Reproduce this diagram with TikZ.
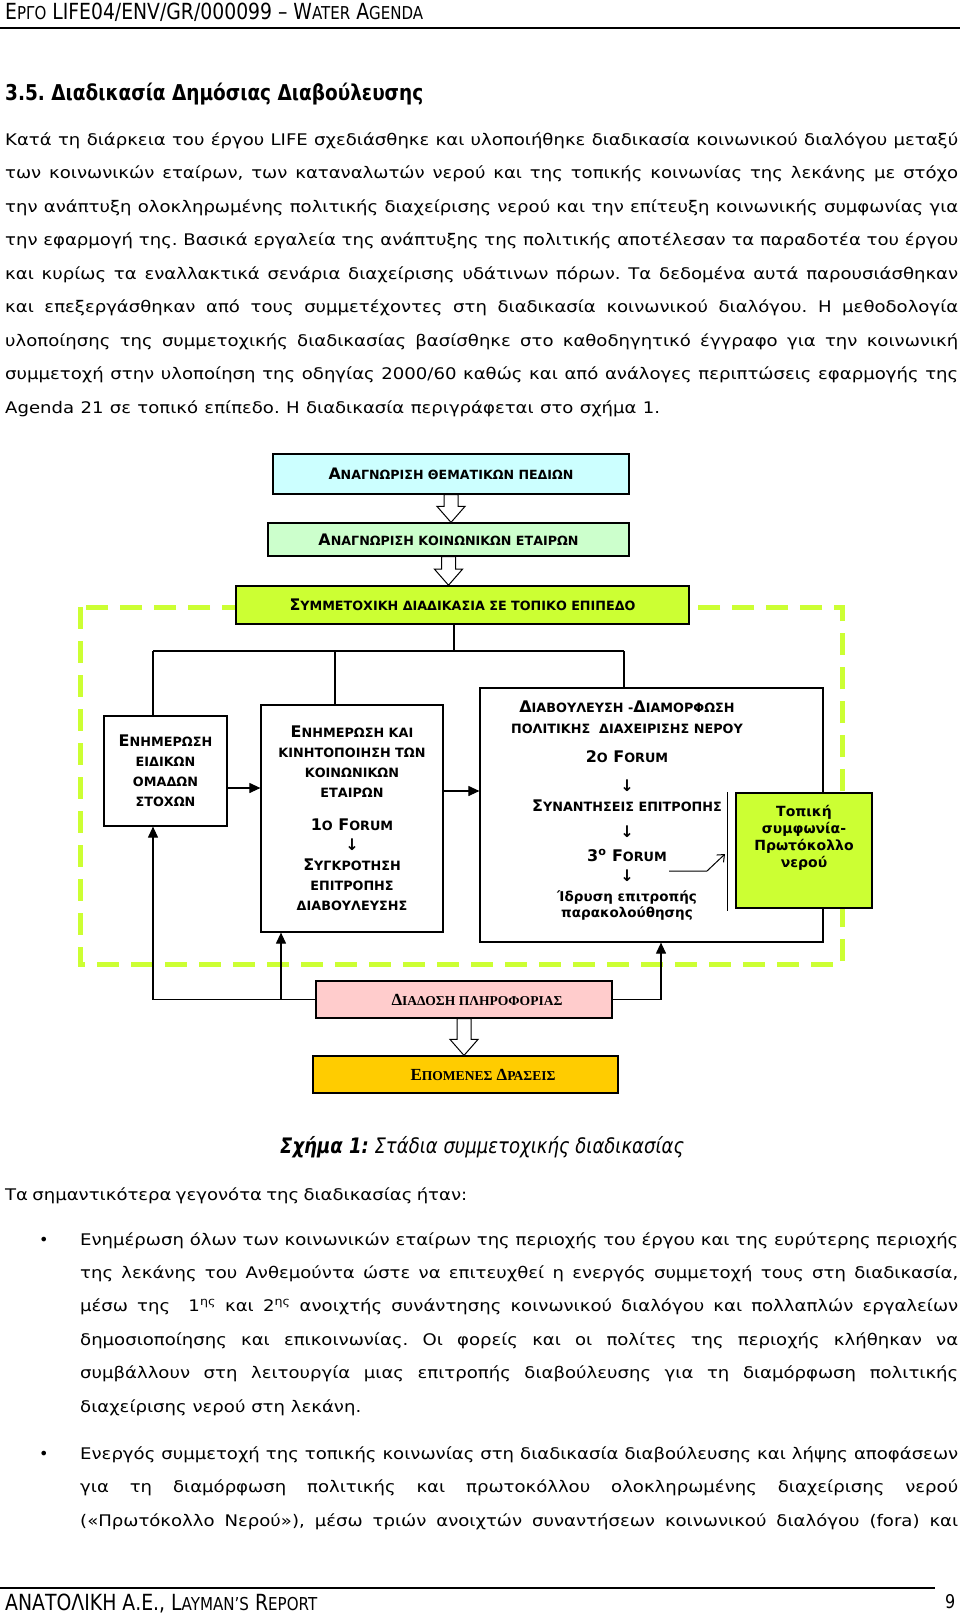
\documentclass[tikz,border=0pt]{standalone}
\usepackage{fontspec}
\setmainfont{DejaVu Sans}
\newfontfamily\timesfont{Liberation Serif}
\usepackage{graphicx}
\usetikzlibrary{arrows.meta,calc}

\definecolor{limegr}{HTML}{CCFF33}
\definecolor{paleblue}{HTML}{CCFFFF}
\definecolor{palegreen}{HTML}{CCFFCC}
\definecolor{palepink}{HTML}{FFCCCC}
\definecolor{gold}{HTML}{FFCC00}

\frenchspacing
\newcommand{\sm}[1]{\scalebox{0.8}{#1}}
\newcommand{\fitw}[2]{\resizebox{#1pt}{!}{#2}}
\newcommand{\tall}[1]{\scalebox{1}[1.18]{#1}}
\newcommand{\jl}[2]{\scalebox{1.13}[1]{\hbox to \dimexpr #1pt*100/113\relax{#2}}}
\newcommand{\fatarrow}[2]{%
  \draw[fatarr] let \p1 = (#1.south), \p2 = (#2.north) in
    (\x1-7pt,\y1) -- (\x1-7pt,\y2+16pt) -- (\x1-14pt,\y2+16pt) -- (\x1,\y2)
    -- (\x1+14pt,\y2+16pt) -- (\x1+7pt,\y2+16pt) -- (\x1+7pt,\y1) -- cycle;}

\tikzset{
  box/.style = {draw, line width=1.2pt, inner sep=0pt},
  wire/.style = {line width=1.1pt},
  feed/.style = {wire, -{Triangle[length=11pt, width=10pt]}},
  fatarr/.style = {draw, line width=1pt, fill=white},
  txt/.style = {anchor=base west, inner sep=0pt, font=\fontsize{16}{16}\selectfont},
  caps/.style = {align=center, inner sep=0pt, font=\bfseries\fontsize{16}{20}\selectfont},
}

\begin{document}
\begin{tikzpicture}[x=1pt, y=-1pt]
	\useasboundingbox (0,0) rectangle (960,1617);
	\fill[white] (0,0) rectangle (960,1617);

	% page head
	\node[txt] (hdr) at (5,19) {\tall{\fitw{418}{\fontsize{15}{15}\selectfont Ε\sm{ΡΓΟ} LIFE04/ENV/GR/000099 -- W\sm{ATER} A\sm{GENDA}}}};
	\draw[line width=1.5pt] (0,28) -- (960,28);
	\node[txt] (sec) at (5,100) {\tall{\fitw{418}{\bfseries\fontsize{17}{17}\selectfont 3.5. Διαδικασία Δημόσιας Διαβούλευσης}}};

	\foreach \t [count=\i] in {
		{Κατά τη διάρκεια του έργου LIFE σχεδιάσθηκε και υλοποιήθηκε διαδικασία κοινωνικού διαλόγου μεταξύ},
		{των κοινωνικών εταίρων, των καταναλωτών νερού και της τοπικής κοινωνίας της λεκάνης με στόχο},
		{την ανάπτυξη ολοκληρωμένης πολιτικής διαχείρισης νερού και την επίτευξη κοινωνικής συμφωνίας για},
		{την εφαρμογή της. Βασικά εργαλεία της ανάπτυξης της πολιτικής αποτέλεσαν τα παραδοτέα του έργου},
		{και κυρίως τα εναλλακτικά σενάρια διαχείρισης υδάτινων πόρων. Τα δεδομένα αυτά παρουσιάσθηκαν},
		{και επεξεργάσθηκαν από τους συμμετέχοντες στη διαδικασία κοινωνικού διαλόγου. Η μεθοδολογία},
		{υλοποίησης της συμμετοχικής διαδικασίας βασίσθηκε στο καθοδηγητικό έγγραφο για την κοινωνική},
		{συμμετοχή στην υλοποίηση της οδηγίας 2000/60 καθώς και από ανάλογες περιπτώσεις εφαρμογής της}}
		{\node[txt] (par\i) at (5,{145+33.5*(\i-1)}) {\jl{953}{\t}};}
	\node[txt] (par9) at (5,413) {\jl{655}{Agenda 21 σε τοπικό επίπεδο. Η διαδικασία περιγράφεται στο σχήμα 1.}};

	% figure
	\draw[limegr, line width=5pt, dash pattern=on 22pt off 12pt] (80,607) rectangle (842,964);

	\node[box, fill=paleblue, minimum width=356pt, minimum height=40pt] (them) at (451,474)
		{\fitw{245}{\bfseries\fontsize{15}{15}\selectfont Α\sm{ΝΑΓΝΩΡΙΣΗ ΘΕΜΑΤΙΚΩΝ ΠΕΔΙΩΝ}}};
	\node[box, fill=palegreen, minimum width=361pt, minimum height=33pt] (part) at (448.5,539.5)
		{\fitw{260}{\bfseries\fontsize{15}{15}\selectfont Α\sm{ΝΑΓΝΩΡΙΣΗ ΚΟΙΝΩΝΙΚΩΝ ΕΤΑΙΡΩΝ}}};
	\node[box, fill=limegr, line width=1.6pt, minimum width=453pt, minimum height=38pt] (loc) at (462.5,605)
		{\fitw{346}{\bfseries\fontsize{15}{15}\selectfont Σ\sm{ΥΜΜΕΤΟΧΙΚΗ ΔΙΑΔΙΚΑΣΙΑ ΣΕ ΤΟΠΙΚΟ ΕΠΙΠΕΔΟ}}};
	\fatarrow{them}{part}
	\fatarrow{part}{loc}

	\node[box, caps, minimum width=123pt, minimum height=110pt] (tgt) at (165.5,771)
		{Ε\sm{ΝΗΜΕΡΩΣΗ}\\ \sm{ΕΙΔΙΚΩΝ}\\ \sm{ΟΜΑΔΩΝ}\\ \sm{ΣΤΟΧΩΝ}};
	\node[box, caps, minimum width=182pt, minimum height=227pt] (mob) at (352,818.5)
		{Ε\sm{ΝΗΜΕΡΩΣΗ ΚΑΙ}\\ \sm{ΚΙΝΗΤΟΠΟΙΗΣΗ ΤΩΝ}\\ \sm{ΚΟΙΝΩΝΙΚΩΝ}\\ \sm{ΕΤΑΙΡΩΝ}\\[13pt]
		1\sm{Ο} F\sm{ORUM}\\ ↓\\ Σ\sm{ΥΓΚΡΟΤΗΣΗ}\\ \sm{ΕΠΙΤΡΟΠΗΣ}\\ \sm{ΔΙΑΒΟΥΛΕΥΣΗΣ}};
	\node[box, minimum width=343pt, minimum height=254pt] (cons) at (651.5,815) {};
	\node[caps, font=\bfseries\fontsize{16}{20}\selectfont, anchor=north] (consT) at (627,701)
		{Δ\sm{ΙΑΒΟΥΛΕΥΣΗ -}Δ\sm{ΙΑΜΟΡΦΩΣΗ}\\[1pt] \sm{ΠΟΛΙΤΙΚΗΣ\ \ ΔΙΑΧΕΙΡΙΣΗΣ ΝΕΡΟΥ}\\[9pt]
		2\sm{Ο} F\sm{ORUM}\\[9pt] ↓\\ Σ\sm{ΥΝΑΝΤΗΣΕΙΣ ΕΠΙΤΡΟΠΗΣ}\\[6pt] ↓\\[4pt]
		3\textsuperscript{o} F\sm{ORUM}\\ ↓\\ {\fontsize{13.5}{16}\selectfont Ίδρυση επιτροπής}\\[-4pt]
		{\fontsize{13.5}{16}\selectfont παρακολούθησης}};
	\node[box, fill=limegr, minimum width=136pt, minimum height=115pt] (prot) at (804,850.5) {};
	\node[align=center, inner sep=0pt, font=\bfseries\fontsize{14}{17}\selectfont] (protT) at (804,838)
		{Τοπική\\συμφωνία-\\Πρωτόκολλο\\νερού};
	\draw[wire] ([xshift=-8pt]prot.north west) -- ([xshift=-8pt,yshift=-2pt]prot.south west);

	\coordinate (bus) at (454,651);
	\coordinate (busL) at (153,651);
	\coordinate (busM) at (335,651);
	\coordinate (busR) at (624,651);
	\draw[wire] (loc.south -| bus) -- (bus);
	\draw[wire] (busL) -- (busR);
	\draw[wire] (busL) -- (busL |- tgt.north);
	\draw[wire] (busM) -- (busM |- mob.north);
	\draw[wire] (busR) -- (busR |- cons.north);
	\draw[feed] ([yshift=-17pt]tgt.east) -- ([yshift=-17pt]tgt.east -| mob.west);
	\draw[feed] ([yshift=27.5pt]mob.east) -- ([yshift=27.5pt]mob.east -| cons.west);

	\coordinate (f3) at (669,871);
	\coordinate (f3k) at (707,871);
	\coordinate (f3t) at (725,854);
	\draw[wire, line width=1pt, -{Straight Barb[length=6pt, width=10pt]}] (f3) -- (f3k) -- (f3t);

	\node[box, fill=palepink, minimum width=296pt, minimum height=37pt] (dis) at (464,999.5)
		{\hspace*{26pt}\fitw{171}{\timesfont\bfseries\fontsize{15}{15}\selectfont Δ\sm{ΙΑΔΟΣΗ ΠΛΗΡΟΦΟΡΙΑΣ}}};
	\node[box, fill=gold, minimum width=305pt, minimum height=37pt] (next) at (465.5,1074.5)
		{\hspace*{35pt}\fitw{145}{\timesfont\bfseries\fontsize{15}{15}\selectfont Ε\sm{ΠΟΜΕΝΕΣ} Δ\sm{ΡΑΣΕΙΣ}}};
	\fatarrow{dis}{next}

	\coordinate (upE) at (281,0);
	\coordinate (upF) at (661,0);
	\draw[feed] (dis.west) -| (busL |- tgt.south);
	\draw[feed] (dis.west -| upE) -- (upE |- mob.south);
	\draw[feed] (dis.east) -| (upF |- cons.south);

	\node[txt] (cap) at (280,1153) {\tall{\fitw{404}{\fontsize{17}{17}\selectfont\itshape\textbf{Σχήμα 1:} Στάδια συμμετοχικής διαδικασίας}}};
	\node[txt] (intro) at (5,1200) {\jl{462}{Τα σημαντικότερα γεγονότα της διαδικασίας ήταν:}};

	% bullets
	\node[txt] (dotA) at (39,1245) {•};
	\foreach \t [count=\i] in {
		{Ενημέρωση όλων των κοινωνικών εταίρων της περιοχής του έργου και της ευρύτερης περιοχής},
		{της λεκάνης του Ανθεμούντα ώστε να επιτευχθεί η ενεργός συμμετοχή τους στη διαδικασία,},
		{μέσω της \ 1\textsuperscript{ης} και 2\textsuperscript{ης} ανοιχτής συνάντησης κοινωνικού διαλόγου και πολλαπλών εργαλείων},
		{δημοσιοποίησης και επικοινωνίας. Οι φορείς και οι πολίτες της περιοχής κλήθηκαν να},
		{συμβάλλουν στη λειτουργία μιας επιτροπής διαβούλευσης για τη διαμόρφωση πολιτικής}}
		{\node[txt] (bA\i) at (80,{1245+33.4*(\i-1)}) {\jl{878}{\t}};}
	\node[txt] (bA6) at (80,1412) {\jl{281}{διαχείρισης νερού στη λεκάνη.}};
	\node[txt] (dotB) at (39,1459) {•};
	\foreach \t [count=\i] in {
		{Ενεργός συμμετοχή της τοπικής κοινωνίας στη διαδικασία διαβούλευσης και λήψης αποφάσεων},
		{για τη διαμόρφωση πολιτικής και πρωτοκόλλου ολοκληρωμένης διαχείρισης νερού},
		{(«Πρωτόκολλο Νερού»), μέσω τριών ανοιχτών συναντήσεων κοινωνικού διαλόγου (fora) και}}
		{\node[txt] (bB\i) at (80,{1459+33.5*(\i-1)}) {\jl{878}{\t}};}

	% page foot
	\draw[line width=1.2pt] (0,1588) -- (935,1588);
	\node[txt] (foot) at (5,1610) {\tall{\fitw{312}{\fontsize{16}{16}\selectfont ΑΝΑΤΟΛΙΚΗ Α.Ε., L\sm{AYMAN'S} R\sm{EPORT}}}};
	\node[txt] (pg) at (945,1608) {\tall{9}};
\end{tikzpicture}
\end{document}
